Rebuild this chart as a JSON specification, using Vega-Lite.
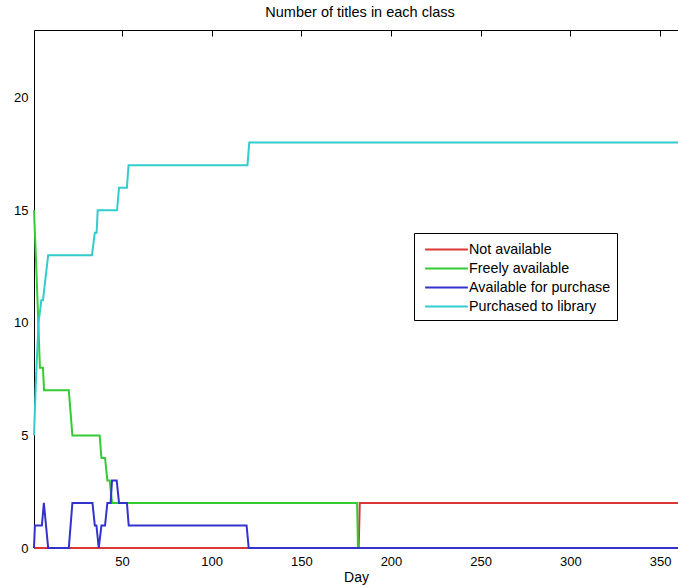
{
  "$schema": "https://vega.github.io/schema/vega-lite/v6.json",
  "width": 644,
  "height": 518,
  "autosize": {"type": "none"},
  "padding": {"left": 34, "top": 30, "right": 0, "bottom": 40},
  "background": "white",
  "title": {"text": "Number of titles in each class", "fontSize": 14.5, "fontWeight": "normal", "font": "Liberation Sans", "color": "black", "dx": 4, "offset": 10},
  "config": {
    "view": {"stroke": null},
    "axis": {"domainColor": "black", "tickColor": "black", "labelColor": "black", "labelFont": "Liberation Sans", "labelFontSize": 13, "titleFont": "Liberation Sans", "titleFontSize": 14, "titleFontWeight": "normal", "titleColor": "black"}
  },
  "data": {"values": [
    {"series": "Not available", "day": 1, "value": 0},
    {"series": "Not available", "day": 182, "value": 0},
    {"series": "Not available", "day": 182.6, "value": 2},
    {"series": "Not available", "day": 360, "value": 2},
    {"series": "Freely available", "day": 1, "value": 15},
    {"series": "Freely available", "day": 2.5, "value": 12},
    {"series": "Freely available", "day": 4.3, "value": 8},
    {"series": "Freely available", "day": 6, "value": 8},
    {"series": "Freely available", "day": 6.6, "value": 7},
    {"series": "Freely available", "day": 20.4, "value": 7},
    {"series": "Freely available", "day": 22.4, "value": 5},
    {"series": "Freely available", "day": 37.6, "value": 5},
    {"series": "Freely available", "day": 38.6, "value": 4},
    {"series": "Freely available", "day": 40.6, "value": 4},
    {"series": "Freely available", "day": 41.9, "value": 3},
    {"series": "Freely available", "day": 43.2, "value": 3},
    {"series": "Freely available", "day": 44.5, "value": 2},
    {"series": "Freely available", "day": 181.1, "value": 2},
    {"series": "Freely available", "day": 181.6, "value": 0},
    {"series": "Freely available", "day": 360, "value": 0},
    {"series": "Available for purchase", "day": 1, "value": 0},
    {"series": "Available for purchase", "day": 1.5, "value": 1},
    {"series": "Available for purchase", "day": 5.4, "value": 1},
    {"series": "Available for purchase", "day": 6.5, "value": 2},
    {"series": "Available for purchase", "day": 8.9, "value": 0},
    {"series": "Available for purchase", "day": 20.4, "value": 0},
    {"series": "Available for purchase", "day": 22.4, "value": 2},
    {"series": "Available for purchase", "day": 33.6, "value": 2},
    {"series": "Available for purchase", "day": 34.9, "value": 1},
    {"series": "Available for purchase", "day": 35.8, "value": 1},
    {"series": "Available for purchase", "day": 37.1, "value": 0},
    {"series": "Available for purchase", "day": 38.6, "value": 1},
    {"series": "Available for purchase", "day": 40.6, "value": 1},
    {"series": "Available for purchase", "day": 41.9, "value": 2},
    {"series": "Available for purchase", "day": 43.7, "value": 2},
    {"series": "Available for purchase", "day": 44.5, "value": 3},
    {"series": "Available for purchase", "day": 47.1, "value": 3},
    {"series": "Available for purchase", "day": 48.4, "value": 2},
    {"series": "Available for purchase", "day": 52.8, "value": 2},
    {"series": "Available for purchase", "day": 53.8, "value": 1},
    {"series": "Available for purchase", "day": 119.5, "value": 1},
    {"series": "Available for purchase", "day": 120.7, "value": 0},
    {"series": "Available for purchase", "day": 360, "value": 0},
    {"series": "Purchased to library", "day": 1, "value": 5},
    {"series": "Purchased to library", "day": 2, "value": 7.3},
    {"series": "Purchased to library", "day": 3.5, "value": 10},
    {"series": "Purchased to library", "day": 5.1, "value": 11},
    {"series": "Purchased to library", "day": 6, "value": 11},
    {"series": "Purchased to library", "day": 8.9, "value": 13},
    {"series": "Purchased to library", "day": 33.3, "value": 13},
    {"series": "Purchased to library", "day": 34.9, "value": 14},
    {"series": "Purchased to library", "day": 35.9, "value": 14},
    {"series": "Purchased to library", "day": 36.5, "value": 15},
    {"series": "Purchased to library", "day": 47.3, "value": 15},
    {"series": "Purchased to library", "day": 48.4, "value": 16},
    {"series": "Purchased to library", "day": 52.8, "value": 16},
    {"series": "Purchased to library", "day": 53.7, "value": 17},
    {"series": "Purchased to library", "day": 120, "value": 17},
    {"series": "Purchased to library", "day": 121, "value": 18},
    {"series": "Purchased to library", "day": 360, "value": 18}
  ]},
  "encoding": {
    "color": {"field": "series", "type": "nominal",
      "scale": {"domain": ["Not available", "Freely available", "Available for purchase", "Purchased to library"], "range": ["#d93636", "#33cc33", "#3333cc", "#33cccc"]},
      "legend": {"orient": "none", "legendX": 380, "legendY": 203, "title": null, "symbolType": "M-2.25,0H2.25", "symbolSize": 361, "symbolStrokeWidth": 2, "labelFontSize": 14.3, "labelFont": "Liberation Sans", "labelColor": "black", "strokeColor": "black", "fillColor": "white", "padding": 6, "rowPadding": 1, "symbolOffset": 16, "labelOffset": 12}}
  },
  "layer": [
    {
      "transform": [{"filter": "datum.series === 'Not available'"}],
      "mark": {"type": "line", "strokeWidth": 2},
      "encoding": {
        "x": {"field": "day", "type": "quantitative", "scale": {"domain": [1, 360], "nice": false, "zero": false},
          "axis": {"orient": "bottom", "values": [50, 100, 150, 200, 250, 300, 350], "title": "Day", "ticks": false, "labelPadding": 7, "titlePadding": 2, "grid": true, "gridColor": "black", "gridOpacity": 1, "gridWidth": 1, "gridDash": [6, 2000]}},
        "y": {"field": "value", "type": "quantitative", "scale": {"domain": [0, 23], "nice": false, "zero": false},
          "axis": {"orient": "left", "values": [0, 5, 10, 15, 20], "title": null, "ticks": false, "labelPadding": 6, "grid": false}}
      }
    },
    {
      "transform": [{"filter": "datum.series === 'Freely available'"}],
      "mark": {"type": "line", "strokeWidth": 2},
      "encoding": {
        "x": {"field": "day", "type": "quantitative", "scale": {"domain": [1, 360], "nice": false, "zero": false},
          "axis": {"orient": "top", "values": [50, 100, 150, 200, 250, 300, 350], "title": null, "labels": false, "domain": true, "ticks": false, "grid": false}},
        "y": {"field": "value", "type": "quantitative", "scale": {"domain": [0, 23], "nice": false, "zero": false}, "axis": null}
      }
    },
    {
      "transform": [{"filter": "datum.series === 'Available for purchase'"}],
      "mark": {"type": "line", "strokeWidth": 2},
      "encoding": {
        "x": {"field": "day", "type": "quantitative", "scale": {"domain": [1, 360], "nice": false, "zero": false}, "axis": null},
        "y": {"field": "value", "type": "quantitative", "scale": {"domain": [0, 23], "nice": false, "zero": false}, "axis": null}
      }
    },
    {
      "transform": [{"filter": "datum.series === 'Purchased to library'"}],
      "mark": {"type": "line", "strokeWidth": 2},
      "encoding": {
        "x": {"field": "day", "type": "quantitative", "scale": {"domain": [1, 360], "nice": false, "zero": false}, "axis": null},
        "y": {"field": "value", "type": "quantitative", "scale": {"domain": [0, 23], "nice": false, "zero": false}, "axis": null}
      }
    }
  ],
  "resolve": {"axis": {"x": "independent", "y": "independent"}}
}
